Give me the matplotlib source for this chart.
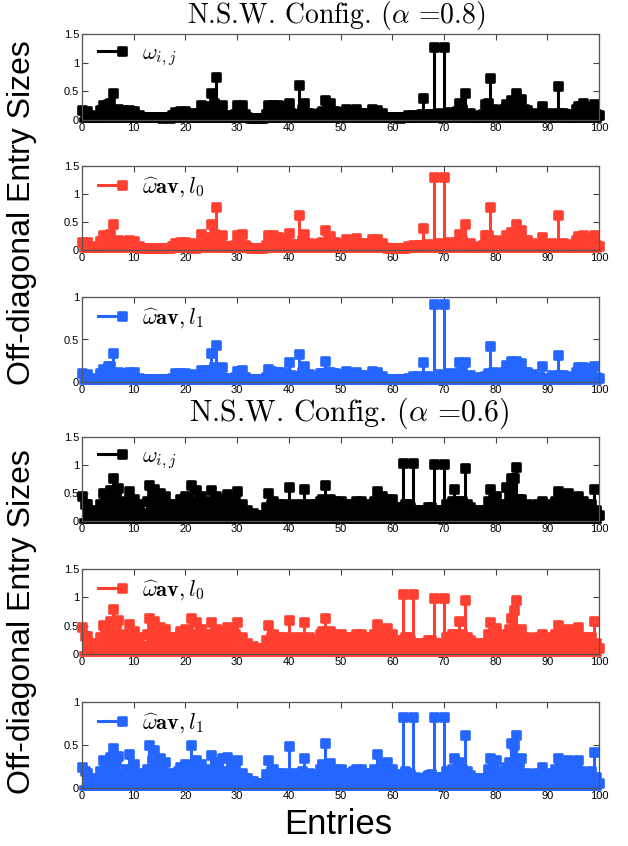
import numpy as np
import matplotlib
matplotlib.use("Agg")
import matplotlib.pyplot as plt
from matplotlib.lines import Line2D
from matplotlib.legend_handler import HandlerLine2D
from matplotlib.markers import MarkerStyle

plt.rcParams['mathtext.fontset'] = 'cm'
plt.rcParams['font.family'] = ['Liberation Sans', 'DejaVu Sans']

entries = np.arange(0, 101)
entries_mid = np.arange(0.5, 100, 1.0)

# alpha = 0.8 : main stems at integer entries, denser low stems in between
w8 = [0.17, 0.16, 0.06, 0.05, 0.27, 0.28, 0.47, 0.20, 0.17, 0.18,
      0.16, 0.08, 0.05, 0.05, 0.05, 0.05, 0.05, 0.04, 0.14, 0.15,
      0.15, 0.13, 0.05, 0.27, 0.25, 0.47, 0.75, 0.27, 0.08, 0.05,
      0.27, 0.27, 0.06, 0.04, 0.04, 0.04, 0.26, 0.26, 0.27, 0.24,
      0.30, 0.10, 0.61, 0.29, 0.12, 0.10, 0.12, 0.35, 0.29, 0.15,
      0.14, 0.20, 0.17, 0.20, 0.12, 0.12, 0.19, 0.18, 0.12, 0.05,
      0.05, 0.05, 0.05, 0.08, 0.08, 0.08, 0.39, 0.10, 1.28, 0.12,
      1.28, 0.14, 0.10, 0.29, 0.47, 0.12, 0.05, 0.08, 0.28, 0.74,
      0.12, 0.10, 0.28, 0.35, 0.47, 0.36, 0.18, 0.12, 0.08, 0.25,
      0.06, 0.12, 0.60, 0.12, 0.10, 0.08, 0.25, 0.29, 0.22, 0.28,
      0.08]
w8_mid = [0.14, 0.08, 0.06, 0.18, 0.20, 0.30, 0.18, 0.12, 0.16, 0.15,
          0.07, 0.05, 0.05, 0.05, 0.05, 0.04, 0.05, 0.08, 0.12, 0.13,
          0.10, 0.05, 0.12, 0.20, 0.22, 0.30, 0.18, 0.08, 0.05, 0.10,
          0.20, 0.10, 0.04, 0.04, 0.04, 0.10, 0.22, 0.20, 0.20, 0.18,
          0.12, 0.10, 0.20, 0.12, 0.10, 0.10, 0.15, 0.20, 0.15, 0.12,
          0.12, 0.14, 0.14, 0.12, 0.10, 0.12, 0.14, 0.10, 0.06, 0.05,
          0.05, 0.04, 0.05, 0.06, 0.06, 0.10, 0.08, 0.10, 0.10, 0.10,
          0.10, 0.08, 0.15, 0.20, 0.10, 0.06, 0.06, 0.10, 0.30, 0.20,
          0.08, 0.20, 0.25, 0.28, 0.30, 0.20, 0.10, 0.08, 0.10, 0.06,
          0.08, 0.10, 0.12, 0.10, 0.06, 0.20, 0.25, 0.20, 0.22, 0.10]
a8 = [0.15, 0.14, 0.05, 0.05, 0.27, 0.27, 0.47, 0.18, 0.16, 0.17,
      0.16, 0.07, 0.04, 0.04, 0.04, 0.04, 0.04, 0.04, 0.13, 0.15,
      0.15, 0.12, 0.04, 0.28, 0.24, 0.47, 0.77, 0.27, 0.07, 0.05,
      0.27, 0.28, 0.06, 0.04, 0.04, 0.04, 0.26, 0.26, 0.24, 0.22,
      0.30, 0.10, 0.63, 0.29, 0.12, 0.10, 0.12, 0.35, 0.25, 0.15,
      0.13, 0.20, 0.17, 0.21, 0.12, 0.12, 0.19, 0.19, 0.12, 0.04,
      0.04, 0.04, 0.04, 0.07, 0.09, 0.09, 0.40, 0.10, 1.30, 0.12,
      1.30, 0.14, 0.10, 0.28, 0.47, 0.12, 0.05, 0.08, 0.26, 0.76,
      0.12, 0.10, 0.26, 0.33, 0.47, 0.36, 0.18, 0.12, 0.08, 0.23,
      0.06, 0.12, 0.62, 0.12, 0.10, 0.08, 0.25, 0.27, 0.22, 0.26,
      0.07]
a8_mid = [0.12, 0.07, 0.05, 0.16, 0.18, 0.28, 0.16, 0.10, 0.15, 0.14,
          0.06, 0.04, 0.04, 0.04, 0.04, 0.04, 0.04, 0.07, 0.11, 0.12,
          0.09, 0.04, 0.11, 0.18, 0.20, 0.28, 0.16, 0.07, 0.05, 0.09,
          0.18, 0.09, 0.04, 0.04, 0.04, 0.09, 0.20, 0.18, 0.18, 0.16,
          0.11, 0.09, 0.18, 0.11, 0.09, 0.09, 0.14, 0.18, 0.14, 0.11,
          0.11, 0.13, 0.13, 0.11, 0.09, 0.11, 0.13, 0.09, 0.05, 0.04,
          0.04, 0.04, 0.04, 0.05, 0.06, 0.09, 0.07, 0.09, 0.09, 0.09,
          0.09, 0.07, 0.14, 0.18, 0.09, 0.05, 0.05, 0.09, 0.26, 0.18,
          0.07, 0.18, 0.23, 0.26, 0.28, 0.18, 0.09, 0.07, 0.09, 0.05,
          0.07, 0.09, 0.11, 0.09, 0.05, 0.18, 0.23, 0.18, 0.20, 0.09]
b8 = [0.10, 0.09, 0.04, 0.04, 0.15, 0.19, 0.34, 0.12, 0.10, 0.12,
      0.12, 0.05, 0.03, 0.03, 0.03, 0.03, 0.03, 0.03, 0.10, 0.11,
      0.11, 0.09, 0.03, 0.14, 0.14, 0.34, 0.43, 0.18, 0.05, 0.04,
      0.13, 0.14, 0.04, 0.03, 0.03, 0.03, 0.15, 0.10, 0.08, 0.08,
      0.24, 0.07, 0.33, 0.19, 0.09, 0.07, 0.10, 0.25, 0.12, 0.10,
      0.09, 0.13, 0.11, 0.12, 0.08, 0.08, 0.13, 0.12, 0.07, 0.03,
      0.03, 0.03, 0.03, 0.05, 0.07, 0.07, 0.23, 0.07, 0.92, 0.09,
      0.92, 0.10, 0.07, 0.24, 0.24, 0.08, 0.04, 0.06, 0.07, 0.42,
      0.08, 0.07, 0.20, 0.25, 0.25, 0.22, 0.12, 0.09, 0.06, 0.19,
      0.04, 0.08, 0.32, 0.08, 0.07, 0.06, 0.18, 0.18, 0.16, 0.19,
      0.05]
b8_mid = [0.08, 0.05, 0.04, 0.10, 0.12, 0.19, 0.10, 0.07, 0.10, 0.09,
          0.04, 0.03, 0.03, 0.03, 0.03, 0.03, 0.03, 0.05, 0.08, 0.09,
          0.06, 0.03, 0.08, 0.12, 0.14, 0.18, 0.10, 0.05, 0.03, 0.06,
          0.12, 0.06, 0.03, 0.03, 0.03, 0.06, 0.13, 0.12, 0.12, 0.10,
          0.08, 0.06, 0.12, 0.08, 0.06, 0.06, 0.10, 0.12, 0.10, 0.08,
          0.08, 0.09, 0.09, 0.08, 0.06, 0.08, 0.09, 0.06, 0.04, 0.03,
          0.03, 0.03, 0.03, 0.04, 0.04, 0.06, 0.05, 0.06, 0.06, 0.06,
          0.06, 0.05, 0.10, 0.13, 0.06, 0.04, 0.04, 0.06, 0.10, 0.12,
          0.05, 0.12, 0.16, 0.18, 0.18, 0.12, 0.06, 0.05, 0.06, 0.04,
          0.05, 0.06, 0.08, 0.06, 0.04, 0.12, 0.15, 0.12, 0.13, 0.06]

# alpha = 0.6
w6 = [0.45, 0.30, 0.15, 0.20, 0.50, 0.35, 0.76, 0.59, 0.30, 0.53,
      0.40, 0.30, 0.15, 0.65, 0.57, 0.50, 0.45, 0.30, 0.30, 0.40,
      0.45, 0.65, 0.55, 0.45, 0.30, 0.55, 0.45, 0.40, 0.48, 0.40,
      0.54, 0.30, 0.20, 0.15, 0.10, 0.10, 0.50, 0.35, 0.30, 0.30,
      0.60, 0.30, 0.25, 0.57, 0.30, 0.30, 0.35, 0.65, 0.40, 0.35,
      0.35, 0.30, 0.30, 0.35, 0.35, 0.30, 0.30, 0.53, 0.45, 0.40,
      0.40, 0.25, 1.04, 0.30, 1.04, 0.20, 0.20, 0.25, 1.02, 0.20,
      1.02, 0.25, 0.58, 0.35, 0.94, 0.25, 0.20, 0.20, 0.20, 0.57,
      0.45, 0.30, 0.60, 0.76, 0.97, 0.40, 0.30, 0.25, 0.30, 0.35,
      0.30, 0.25, 0.54, 0.45, 0.50, 0.30, 0.45, 0.35, 0.30, 0.58,
      0.10]
w6_mid = [0.30, 0.20, 0.12, 0.30, 0.40, 0.55, 0.45, 0.25, 0.35, 0.30,
          0.25, 0.15, 0.35, 0.50, 0.40, 0.30, 0.25, 0.20, 0.30, 0.35,
          0.40, 0.35, 0.30, 0.25, 0.35, 0.30, 0.25, 0.30, 0.30, 0.35,
          0.25, 0.18, 0.12, 0.10, 0.08, 0.25, 0.30, 0.25, 0.20, 0.25,
          0.25, 0.20, 0.30, 0.25, 0.20, 0.25, 0.40, 0.30, 0.25, 0.30,
          0.25, 0.25, 0.30, 0.25, 0.20, 0.25, 0.35, 0.30, 0.30, 0.25,
          0.20, 0.25, 0.30, 0.25, 0.20, 0.15, 0.20, 0.25, 0.20, 0.20,
          0.30, 0.35, 0.30, 0.35, 0.30, 0.15, 0.15, 0.15, 0.35, 0.40,
          0.30, 0.25, 0.45, 0.77, 0.40, 0.25, 0.20, 0.25, 0.25, 0.25,
          0.20, 0.35, 0.40, 0.35, 0.30, 0.35, 0.30, 0.25, 0.30, 0.20]
a6 = [0.48, 0.32, 0.15, 0.20, 0.51, 0.35, 0.79, 0.60, 0.30, 0.53,
      0.40, 0.30, 0.15, 0.64, 0.59, 0.48, 0.45, 0.30, 0.30, 0.40,
      0.45, 0.64, 0.57, 0.45, 0.30, 0.57, 0.45, 0.40, 0.48, 0.40,
      0.56, 0.30, 0.20, 0.15, 0.10, 0.10, 0.51, 0.35, 0.30, 0.30,
      0.60, 0.30, 0.25, 0.57, 0.30, 0.20, 0.35, 0.64, 0.40, 0.35,
      0.35, 0.30, 0.30, 0.35, 0.35, 0.30, 0.30, 0.53, 0.40, 0.46,
      0.35, 0.25, 1.06, 0.30, 1.06, 0.20, 0.20, 0.25, 0.99, 0.20,
      0.99, 0.30, 0.35, 0.59, 0.96, 0.25, 0.20, 0.20, 0.20, 0.56,
      0.46, 0.30, 0.35, 0.64, 0.95, 0.44, 0.30, 0.25, 0.30, 0.35,
      0.30, 0.25, 0.52, 0.40, 0.44, 0.30, 0.48, 0.26, 0.30, 0.58,
      0.10]
a6_mid = [0.32, 0.20, 0.12, 0.30, 0.42, 0.58, 0.45, 0.25, 0.35, 0.30,
          0.25, 0.15, 0.35, 0.50, 0.40, 0.30, 0.25, 0.20, 0.30, 0.35,
          0.40, 0.35, 0.30, 0.25, 0.35, 0.32, 0.25, 0.30, 0.30, 0.35,
          0.25, 0.18, 0.12, 0.10, 0.08, 0.25, 0.30, 0.25, 0.20, 0.25,
          0.25, 0.20, 0.30, 0.25, 0.20, 0.25, 0.40, 0.30, 0.25, 0.30,
          0.25, 0.25, 0.30, 0.25, 0.20, 0.25, 0.35, 0.30, 0.30, 0.25,
          0.20, 0.25, 0.30, 0.25, 0.20, 0.15, 0.20, 0.25, 0.20, 0.20,
          0.30, 0.35, 0.30, 0.35, 0.30, 0.15, 0.15, 0.15, 0.35, 0.40,
          0.30, 0.25, 0.45, 0.78, 0.40, 0.25, 0.20, 0.25, 0.25, 0.25,
          0.20, 0.35, 0.40, 0.35, 0.30, 0.35, 0.30, 0.25, 0.30, 0.20]
b6 = [0.25, 0.18, 0.08, 0.12, 0.33, 0.22, 0.47, 0.37, 0.18, 0.40,
      0.28, 0.18, 0.08, 0.50, 0.44, 0.35, 0.30, 0.18, 0.18, 0.25,
      0.28, 0.50, 0.32, 0.28, 0.18, 0.38, 0.30, 0.35, 0.36, 0.25,
      0.32, 0.18, 0.12, 0.08, 0.06, 0.06, 0.33, 0.22, 0.18, 0.18,
      0.49, 0.18, 0.15, 0.35, 0.18, 0.12, 0.22, 0.52, 0.29, 0.22,
      0.22, 0.18, 0.18, 0.22, 0.22, 0.18, 0.18, 0.40, 0.28, 0.30,
      0.22, 0.15, 0.82, 0.18, 0.82, 0.12, 0.12, 0.15, 0.82, 0.12,
      0.82, 0.18, 0.35, 0.30, 0.62, 0.15, 0.12, 0.12, 0.12, 0.35,
      0.32, 0.18, 0.25, 0.52, 0.62, 0.35, 0.18, 0.15, 0.18, 0.25,
      0.18, 0.15, 0.35, 0.25, 0.32, 0.18, 0.33, 0.18, 0.18, 0.42,
      0.06]
b6_mid = [0.20, 0.12, 0.08, 0.20, 0.26, 0.36, 0.30, 0.16, 0.22, 0.20,
          0.16, 0.10, 0.22, 0.33, 0.26, 0.20, 0.16, 0.13, 0.20, 0.22,
          0.26, 0.22, 0.20, 0.16, 0.22, 0.20, 0.16, 0.20, 0.20, 0.22,
          0.16, 0.12, 0.08, 0.06, 0.05, 0.16, 0.20, 0.16, 0.13, 0.16,
          0.16, 0.13, 0.20, 0.16, 0.13, 0.16, 0.28, 0.20, 0.16, 0.20,
          0.16, 0.16, 0.20, 0.16, 0.13, 0.16, 0.22, 0.20, 0.20, 0.16,
          0.13, 0.16, 0.20, 0.16, 0.13, 0.10, 0.13, 0.16, 0.13, 0.13,
          0.20, 0.22, 0.20, 0.22, 0.20, 0.10, 0.10, 0.10, 0.22, 0.26,
          0.20, 0.16, 0.30, 0.50, 0.26, 0.16, 0.13, 0.16, 0.16, 0.16,
          0.13, 0.22, 0.26, 0.22, 0.20, 0.22, 0.20, 0.16, 0.20, 0.13]

series = [w8, a8, b8, w6, a6, b6]
series_mid = [w8_mid, a8_mid, b8_mid, w6_mid, a6_mid, b6_mid]
labels = [r'$\omega_{i,j}$', r'$\widehat{\omega}\mathbf{av},l_0$', r'$\widehat{\omega}\mathbf{av},l_1$'] * 2
colors = ['#000000', '#ff4030', '#2466ff'] * 2
ytops = [1.5, 1.5, 1.0, 1.5, 1.5, 1.0]
titles = [r'N.S.W. Config. ($\alpha$ =0.8)', r'N.S.W. Config. ($\alpha$ =0.6)']

# axes boxes in pixels: top, bottom
W, H = 628, 846
boxes = [(34, 120), (166, 250), (297, 382), (437, 521), (569, 654), (702, 788)]
left, right = 82, 599


class EndMarker(HandlerLine2D):
    def create_artists(self, *args, **kwargs):
        arts = super().create_artists(*args, **kwargs)
        for a in arts:
            n = len(a.get_xdata())
            if n > 1:
                a.set_markevery([n - 1])
        return arts


fig = plt.figure(figsize=(W / 100, H / 100), dpi=100)
sq = MarkerStyle('s', joinstyle='round')
MS, MEW = 6.4, 1.9


def draw_stems(ax, x, y, col):
    ml, sl, bl = ax.stem(x, y, linefmt='-', markerfmt='s', basefmt='-')
    sl.set_color(col)
    sl.set_linewidth(2.2)
    ml.set_marker(sq)
    ml.set_color(col)
    ml.set_markersize(MS)
    ml.set_markeredgewidth(MEW)
    ml.set_clip_on(False)
    bl.set_color(col)
    bl.set_linewidth(4)
    bl.set_clip_on(False)


for i, (vals, mids, lab, col, ytop) in enumerate(zip(series, series_mid, labels, colors, ytops)):
    top, bot = boxes[i]
    ax = fig.add_axes([left / W, 1 - bot / H, (right - left) / W, (bot - top) / H])
    draw_stems(ax, entries_mid, mids, col)
    draw_stems(ax, entries, vals, col)
    ax.set_xlim(0, 100)
    ax.set_ylim(0, ytop)
    ax.set_xticks(np.arange(0, 101, 10))
    yt = np.arange(0, ytop + 0.01, 0.5)
    ax.set_yticks(yt)
    ax.set_yticklabels(['%g' % v for v in yt])
    ax.tick_params(direction='in', top=True, right=True, labelsize=8,
                   length=4, width=0.8, color='#444444', pad=2)
    for s in ax.spines.values():
        s.set_color('#555555')
        s.set_linewidth(0.9)
    h = Line2D([], [], color=col, marker=sq, lw=2.2, ms=MS, mew=MEW)
    ax.legend([h], [lab], loc='upper left', frameon=False, fontsize=16,
              handlelength=1.7, handletextpad=0.6, borderaxespad=0.0,
              handler_map={Line2D: EndMarker(numpoints=2)})

fig.text(0.535, 0.982, titles[0], ha='center', va='center', fontsize=20, family='cmr10')
fig.text(0.556, 0.512, titles[1], ha='center', va='center', fontsize=21.5, family='cmr10')
fig.text(0.035, 0.749, 'Off-diagonal Entry Sizes', rotation=90,
         ha='center', va='center', fontsize=23)
fig.text(0.035, 0.265, 'Off-diagonal Entry Sizes', rotation=90,
         ha='center', va='center', fontsize=23)
fig.text(0.538, 0.025, 'Entries', ha='center', va='center', fontsize=25)

fig.savefig('out.png', dpi=100)
